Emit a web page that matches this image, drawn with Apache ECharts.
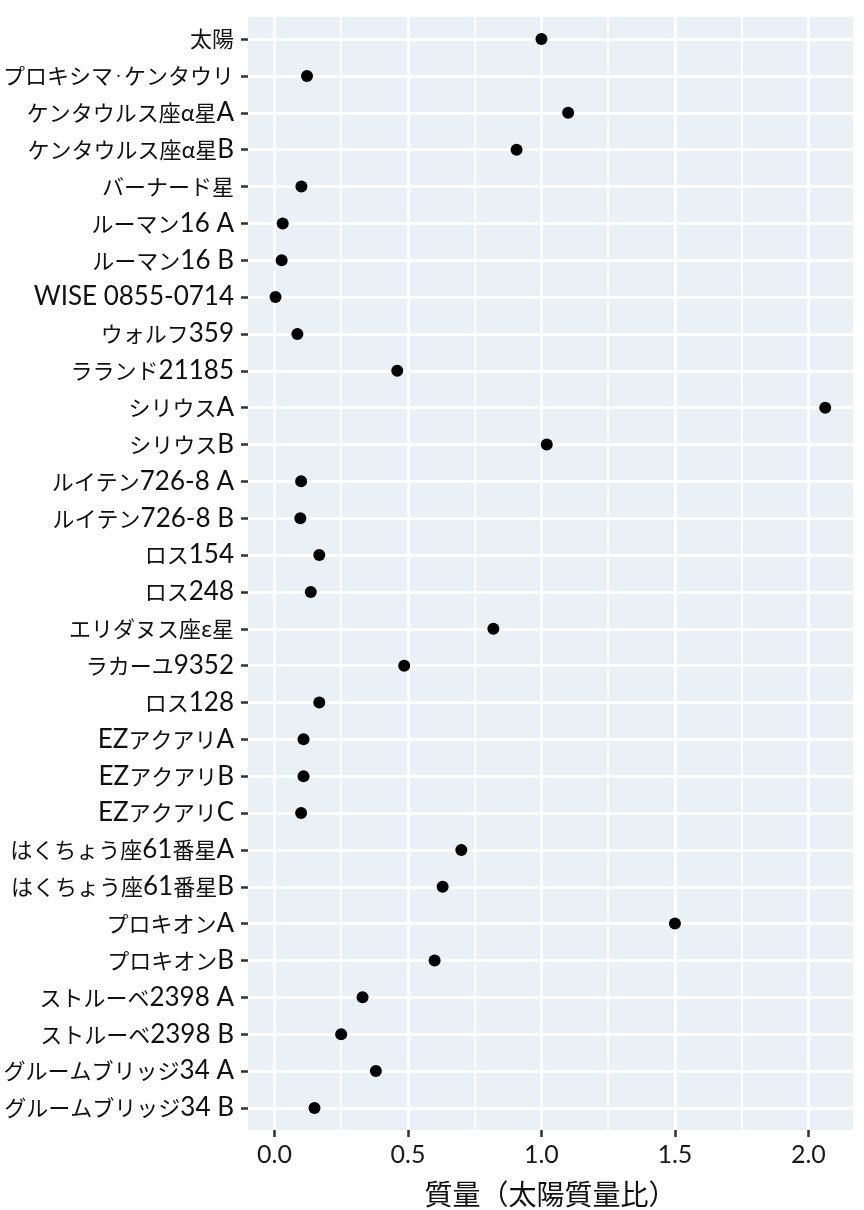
<!DOCTYPE html>
<html>
<head>
    <meta charset="UTF-8">
    <title>近傍恒星の質量</title>
    <script src="https://cdn.jsdelivr.net/npm/echarts@6.0.0/dist/echarts.min.js"></script>
    <style>
        body { margin: 0; padding: 0; background: #fff; }
        #chart { width: 864px; height: 1210px; }
    </style>
</head>
<body>
<div id="chart"></div>
<script>
// 恒星名（上から順）
const starNames = [
    '太陽', 'プロキシマ・ケンタウリ', 'ケンタウルス座α星A', 'ケンタウルス座α星B',
    'バーナード星', 'ルーマン16 A', 'ルーマン16 B', 'WISE 0855-0714',
    'ウォルフ359', 'ラランド21185', 'シリウスA', 'シリウスB',
    'ルイテン726-8 A', 'ルイテン726-8 B', 'ロス154', 'ロス248',
    'エリダヌス座ε星', 'ラカーユ9352', 'ロス128', 'EZアクアリA',
    'EZアクアリB', 'EZアクアリC', 'はくちょう座61番星A', 'はくちょう座61番星B',
    'プロキオンA', 'プロキオンB', 'ストルーベ2398 A', 'ストルーベ2398 B',
    'グルームブリッジ34 A', 'グルームブリッジ34 B'
];

// 質量（太陽質量比）
const starMass = [
    1.0, 0.122, 1.10, 0.907,
    0.101, 0.031, 0.027, 0.004,
    0.086, 0.46, 2.063, 1.02,
    0.10, 0.097, 0.168, 0.136,
    0.82, 0.486, 0.168, 0.109,
    0.109, 0.10, 0.70, 0.63,
    1.50, 0.60, 0.33, 0.25,
    0.38, 0.15
];

const majorTicks = [0, 0.5, 1.0, 1.5, 2.0];
const minorTicks = [0.25, 0.75, 1.25, 1.75];

const font = 'Lato, "Noto Sans CJK JP", sans-serif';
const cjk = '"Noto Sans CJK JP", sans-serif';
const rowIdx = starNames.map((n, i) => i);

// ラテン文字と和文でサイズを変える（元図のフォントに合わせる）
function richLabel(name) {
    return name.split(/([A-Za-z0-9 \-]+|・)/).filter(s => s).map(s => {
        if (s === '・') return '{d|' + s + '}';
        if (/^[A-Za-z0-9 \-]+$/.test(s)) return '{a|' + s + '}';
        return '{j|' + s + '}';
    }).join('');
}

const chart = echarts.init(document.getElementById('chart'));

chart.setOption({
    animation: false,
    backgroundColor: '#ffffff',
    grid: {
        left: 248, right: 11, top: 17, bottom: 80,
        outerBoundsMode: 'none',
        containLabel: false,
        show: true,
        backgroundColor: '#E9F1F7',
        borderWidth: 0
    },
    xAxis: [{
        type: 'value',
        min: -0.099, max: 2.167,
        name: '質量（太陽質量比）',
        nameLocation: 'middle',
        nameGap: 50,
        nameTextStyle: { fontFamily: cjk, fontSize: 28, color: '#111' },
        axisLine: { show: false, onZero: false },
        axisTick: {
            show: true, length: 7, customValues: majorTicks,
            lineStyle: { color: '#333', width: 2.5 }
        },
        axisLabel: {
            customValues: majorTicks,
            formatter: v => v.toFixed(1),
            fontFamily: font, fontSize: 25, color: '#1a1a1a', margin: 12
        },
        splitLine: { show: true, lineStyle: { color: '#fff', width: 3 } }
    }, {
        type: 'value',
        min: -0.099, max: 2.167,
        position: 'bottom',
        axisLine: { show: false, onZero: false },
        axisTick: { show: false, customValues: minorTicks },
        axisLabel: { show: false, customValues: minorTicks },
        splitLine: { show: true, lineStyle: { color: '#fff', width: 2 } }
    }],
    yAxis: {
        type: 'value',
        inverse: true,
        min: -0.6, max: 29.6,
        axisLine: { show: false, onZero: false },
        axisTick: {
            show: true, length: 7, customValues: rowIdx,
            lineStyle: { color: '#333', width: 2.5 }
        },
        axisLabel: {
            customValues: rowIdx,
            formatter: v => richLabel(starNames[Math.round(v)] || ''),
            color: '#111', margin: 14,
            rich: {
                a: { fontFamily: 'Lato, sans-serif', fontSize: 26, color: '#111', lineHeight: 30 },
                j: { fontFamily: cjk, fontSize: 22, color: '#111', lineHeight: 30 },
                d: { fontFamily: cjk, fontSize: 11, color: '#111', lineHeight: 30 }
            }
        },
        splitLine: { show: true, lineStyle: { color: '#fff', width: 3 } }
    },
    series: [{
        type: 'scatter',
        xAxisIndex: 0,
        symbol: 'circle',
        symbolSize: 12,
        itemStyle: { color: '#000', opacity: 1 },
        data: starMass.map((m, i) => [m, i])
    }]
});
</script>
</body>
</html>
